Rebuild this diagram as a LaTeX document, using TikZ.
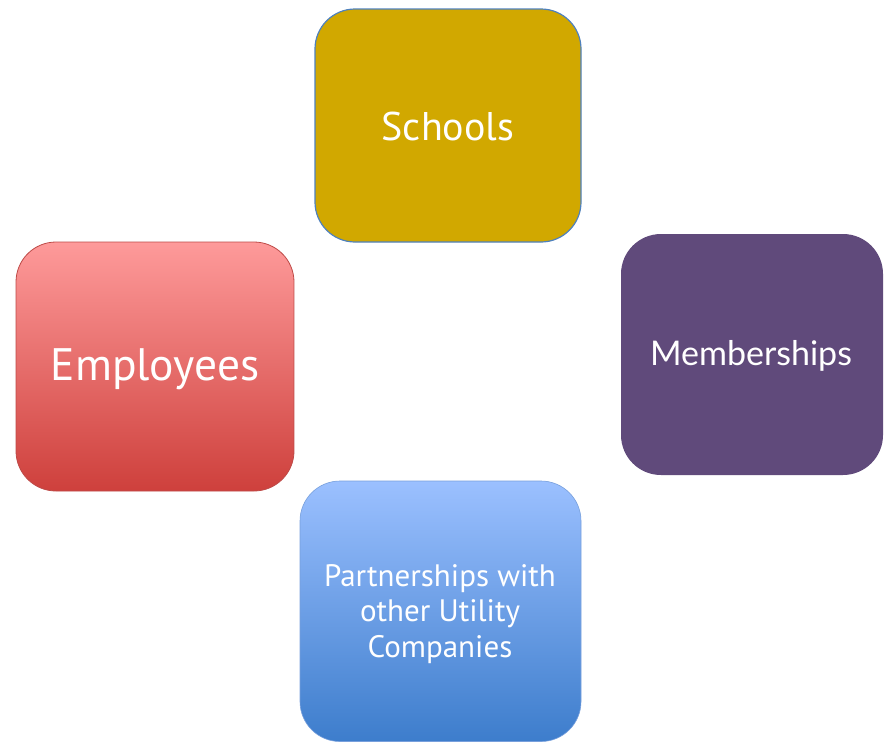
\documentclass[tikz,border=0pt]{standalone}
\usepackage{fontspec}
\setmainfont{PT Sans}
\newfontfamily\gillfont{Lato}
\definecolor{schoolfill}{RGB}{209,168,0}
\definecolor{schoolline}{RGB}{79,129,189}
\definecolor{emptop}{RGB}{254,154,154}
\definecolor{empbot}{RGB}{206,64,60}
\definecolor{empline}{RGB}{190,75,72}
\definecolor{memfill}{RGB}{96,74,123}
\definecolor{parttop}{RGB}{155,192,255}
\definecolor{partbot}{RGB}{61,125,204}
\definecolor{partline}{RGB}{120,160,220}
\begin{document}
\begin{tikzpicture}[x=1pt,y=-1pt,
  card/.style={rounded corners=40pt, inner sep=0pt, line width=1.2pt},
  label/.style={text=white, align=center, inner sep=0pt}]
\useasboundingbox (0,0) rectangle (885,742);
% boxes
\draw[card, draw=schoolline, fill=schoolfill] (315,9) rectangle (581,242);
\path (448,125) node (schools) {};
\shade[card, top color=emptop, bottom color=empbot] (16,242) rectangle (294,491);
\draw[card, draw=empline, line width=0.8pt] (16,242) rectangle (294,491);
\path (155,366) node (employees) {};
\fill[card, fill=memfill] (621,234) rectangle (883,475);
\path (752,354) node (memberships) {};
\shade[card, top color=parttop, bottom color=partbot] (300,481) rectangle (581,741.5);
\draw[card, draw=partline, line width=0.6pt] (300,481) rectangle (581,741.5);
\path (440,611) node (partners) {};
% labels
\node[label, font=\fontsize{40}{48}\selectfont] (tschools) at (448,126) {Schools};
\node[label, font=\fontsize{45.5}{52}\selectfont] (temployees) at (155,369) {Employees};
\node[label, font=\gillfont\fontsize{34}{40}\selectfont] (tmem) at (751,356) {Memberships};
\node[label, font=\fontsize{31}{35.5}\selectfont] (tpart) at (440,614) {Partnerships with\\other Utility\\Companies};
\end{tikzpicture}
\end{document}
